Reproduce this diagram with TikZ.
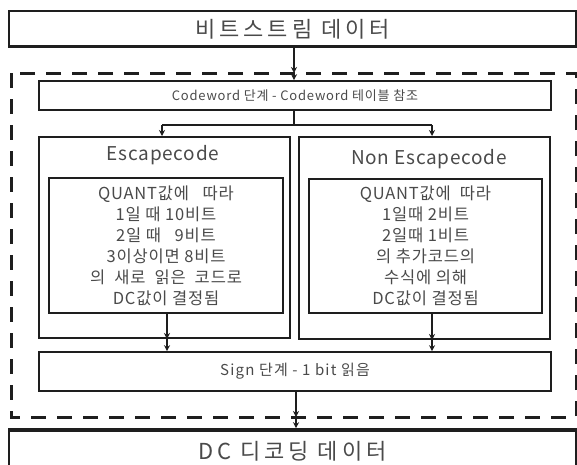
\documentclass[tikz,border=0pt]{standalone}
\usepackage{fontspec}
\setmainfont{Noto Sans CJK KR}
\usetikzlibrary{arrows.meta}
\definecolor{txt}{HTML}{4A4A4A}
\definecolor{ln}{HTML}{1E1E1E}
\tikzset{
  box/.style={draw=ln, line width=1.6pt, rectangle, inner sep=0pt, text=txt},
  inbox/.style={draw=ln, line width=2.2pt, rectangle, inner sep=0pt, text=txt, align=center,
     font=\fontsize{16.5}{21}\selectfont\addfontfeatures{LetterSpace=5}},
  lbl/.style={text=txt, inner sep=0pt},
  arr/.style={draw=ln, line width=1.4pt, -{Stealth[length=6pt,width=6pt]}},
  ln/.style={draw=ln, line width=1.4pt},
  dashbox/.style={draw=ln, line width=3pt, dash pattern=on 15pt off 11pt},
}
\begin{document}
\begin{tikzpicture}[x=1pt,y=-1pt]
\clip (0,0) rectangle (577,464);
\useasboundingbox (0,0) rectangle (577,464);
% dashed frame
\draw[dashbox] (11,73) rectangle (576,417);
% boxes
\node[box, minimum width=567pt, minimum height=36pt, font=\fontsize{22}{26}\selectfont\addfontfeatures{LetterSpace=18}] (top) at (292.5,29) {비트스트림 데이터};
\draw[draw=ln, line width=3pt] (9,46) -- (576,46);
\node[box, minimum width=512pt, minimum height=29pt, font=\fontsize{13}{15}\selectfont\addfontfeatures{LetterSpace=6}] (cw) at (295,95.5) {Codeword 단계 - Codeword 테이블 참조};
\node[box, line width=2pt, minimum width=251pt, minimum height=201pt] (esout) at (164.5,237.5) {};
\node[lbl, font=\fontsize{19}{22}\selectfont\addfontfeatures{LetterSpace=4}] (eslbl) at (163,155) {Escapecode};
\node[inbox, minimum width=234pt, minimum height=135pt] (esin) at (166,245.5)
  {QUANT값에\ \ \ 따라\\1일 때 10비트\\2일 때\ \ \ 9비트\\3이상이면 8비트\\의\ \ 새로\ \ 읽은\ \ 코드로\\DC값이 결정됨};
\node[box, line width=2pt, minimum width=251pt, minimum height=202pt] (neout) at (424.5,238) {};
\node[lbl, font=\fontsize{19}{22}\selectfont\addfontfeatures{LetterSpace=4}] (nelbl) at (429,159) {Non Escapecode};
\node[inbox, minimum width=233pt, minimum height=134pt] (nein) at (425.5,246)
  {QUANT값에\ \ 따라\\1일때 2비트\\2일때 1비트\\의 추가코드의\\수식에 의해\\DC값이 결정됨};
\node[box, minimum width=512pt, minimum height=39pt, font=\fontsize{15}{18}\selectfont\addfontfeatures{LetterSpace=8}] (sign) at (295,371.5) {Sign 단계 - 1 bit 읽음};
\node[box, minimum width=567pt, minimum height=44pt, font=\fontsize{22}{26}\selectfont\addfontfeatures{LetterSpace=18}] (dc) at (292.5,451) {DC 디코딩 데이터};
\draw[draw=ln, line width=3pt] (9,430) -- (576,430);
% coordinates
\coordinate (cx) at (294,0);
\coordinate (dl) at (0,73);
\coordinate (db) at (0,417);
\coordinate (br) at (0,125);
\coordinate (ax) at (162,0);
\coordinate (bx) at (432,0);
\coordinate (ex) at (167,0);
\coordinate (sx) at (296,0);
\coordinate (tj) at (cx |- dl);
\coordinate (bj) at (cx |- br);
\coordinate (bl) at (ax |- br);
\coordinate (brr) at (bx |- br);
\coordinate (ej1) at (ex |- esout.south);
\coordinate (nj1) at (bx |- neout.south);
\coordinate (sj) at (sx |- db);
% connectors
\draw[arr] (top.south -| cx) -- (tj);
\draw[arr] (tj) -- (cw.north -| cx);
\draw[ln] (cw.south -| cx) -- (bj);
\draw[ln] (bl) -- (brr);
\draw[arr] (bl) -- (esout.north -| ax);
\draw[arr] (brr) -- (neout.north -| bx);
\draw[arr] (esin.south -| ex) -- (ej1);
\draw[arr] (ej1) -- (sign.north -| ex);
\draw[arr] (nein.south -| bx) -- (nj1);
\draw[arr] (nj1) -- (sign.north -| bx);
\draw[arr] (sign.south -| sx) -- (sj);
\draw[arr] (sj) -- (dc.north -| sx);
\end{tikzpicture}
\end{document}
